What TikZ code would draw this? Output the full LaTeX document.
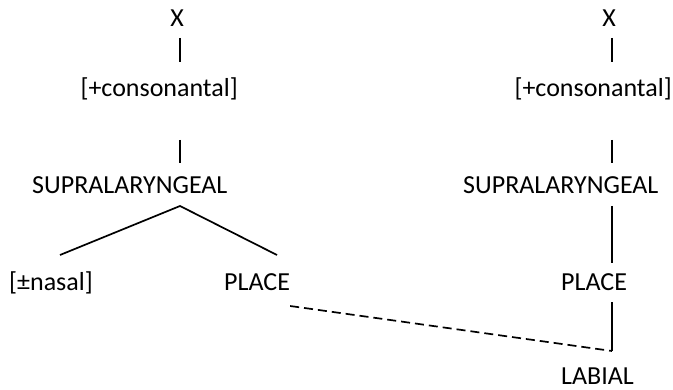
\documentclass[tikz,border=0pt]{standalone}
\usepackage{fontspec}
\setmainfont{Carlito}
\usetikzlibrary{positioning, calc}

\begin{document}
\begin{tikzpicture}[
    x=1pt, y=1pt,
    feat/.style={inner sep=0pt, font=\fontsize{26}{31}\selectfont},
    branch/.style={line width=1.7pt},
    spread/.style={line width=1.7pt, dash pattern=on 9pt off 5pt}
]
\useasboundingbox (0,0) rectangle (673,389);

% left tree
\node[feat, anchor=base] (rootL) at (177,362) {X};
\node[feat, anchor=base east] (consL) at (238,292) {[+consonantal]};
\node[feat, anchor=base west] (supraL) at (32,195) {SUPRALARYNGEAL};
\node[feat, anchor=base west] (nasal) at (9,99) {[±nasal]};
\node[feat, anchor=base west] (placeL) at (224,99) {PLACE};
\coordinate (colL) at (180,0);

% right tree
\node[feat, anchor=base] (rootR) at (609,362) {X};
\node[feat, anchor=base east] (consR) at (672,292) {[+consonantal]};
\node[feat, anchor=base west] (supraR) at (463,195) {SUPRALARYNGEAL};
\node[feat, anchor=base west] (placeR) at (561,99) {PLACE};
\node[feat, anchor=base west] (labial) at (561,5) {LABIAL};
\coordinate (colR) at (612,0);

\draw[branch] ([yshift=-11pt]rootL.base -| colL) -- ([yshift=35pt]consL.base -| colL);
\draw[branch] ([yshift=-43pt]consL.base -| colL) -- ([yshift=31pt]supraL.base -| colL);
\draw[branch] ([xshift=51pt, yshift=35pt]nasal.base west) -- ([yshift=-12pt]supraL.base -| colL)
    -- ([xshift=53pt, yshift=35pt]placeL.base west);

\draw[branch] ([yshift=-11pt]rootR.base -| colR) -- ([yshift=35pt]consR.base -| colR);
\draw[branch] ([yshift=-43pt]consR.base -| colR) -- ([yshift=31pt]supraR.base -| colR);
\draw[branch] ([yshift=-12pt]supraR.base -| colR) -- ([yshift=27pt]placeR.base -| colR);
\draw[branch] ([yshift=-12pt]placeR.base -| colR) -- ([yshift=33pt]labial.base -| colR);

% association line
\draw[spread] ([yshift=-16pt]placeL.base east) -- ([yshift=33pt]labial.base -| colR);
\end{tikzpicture}
\end{document}
